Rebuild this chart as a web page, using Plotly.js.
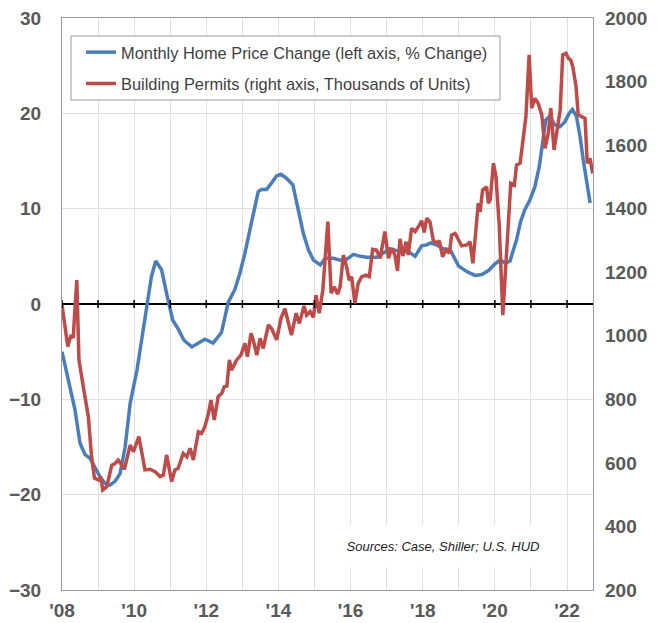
<!DOCTYPE html>
<html>
<head>
<meta charset="utf-8">
<script src="https://cdn.plot.ly/plotly-3.0.1.min.js"></script>
<style>
  html, body { margin: 0; padding: 0; background: #ffffff; }
  #chart { width: 669px; height: 623px; }
</style>
</head>
<body>
<div id="chart"></div>
<script>
// Monthly Home Price Change (left axis, % change)
var priceYears = [2008.00, 2008.17, 2008.36, 2008.50, 2008.64, 2008.78, 2008.91, 2009.05, 2009.19, 2009.33,
  2009.47, 2009.61, 2009.75, 2009.89, 2010.08, 2010.30, 2010.48, 2010.60, 2010.76, 2010.94,
  2011.07, 2011.22, 2011.38, 2011.60, 2011.78, 2011.96, 2012.19, 2012.42, 2012.61, 2012.79,
  2012.93, 2013.07, 2013.21, 2013.33, 2013.44, 2013.53, 2013.67, 2013.81, 2013.94, 2014.07,
  2014.22, 2014.40, 2014.52, 2014.69, 2014.83, 2014.97, 2015.16, 2015.30, 2015.53, 2015.71,
  2015.90, 2016.08, 2016.27, 2016.45, 2016.73, 2017.01, 2017.09, 2017.37, 2017.60, 2017.79,
  2017.97, 2018.11, 2018.22, 2018.39, 2018.57, 2018.76, 2018.90, 2018.99, 2019.22, 2019.45,
  2019.64, 2019.82, 2020.00, 2020.15, 2020.29, 2020.42, 2020.49, 2020.60, 2020.71, 2020.83,
  2020.97, 2021.11, 2021.23, 2021.32, 2021.41, 2021.52, 2021.66, 2021.80, 2021.94, 2022.06,
  2022.15, 2022.26, 2022.36, 2022.45, 2022.55, 2022.64];
var priceChange = [-5.0, -8.0, -11.1, -14.6, -15.8, -16.2, -17.1, -18.1, -18.8, -19.0,
  -18.6, -17.8, -15.0, -10.4, -6.9, -1.5, 2.9, 4.5, 3.6, 0.4,
  -1.7, -2.6, -3.8, -4.5, -4.1, -3.7, -4.1, -3.0, 0.2, 1.5,
  3.2, 5.3, 7.8, 9.9, 11.8, 12.0, 12.0, 12.7, 13.4, 13.6,
  13.2, 12.5, 10.2, 7.4, 5.7, 4.6, 4.1, 4.8, 4.8, 4.6,
  4.7, 5.2, 5.0, 4.9, 4.9, 5.6, 5.8, 5.5, 5.5, 5.0,
  6.1, 6.2, 6.4, 6.2, 5.8, 5.7, 4.6, 4.0, 3.4, 3.0,
  3.1, 3.5, 4.2, 4.6, 4.3, 4.5, 5.4, 6.7, 8.6, 9.9,
  10.9, 12.3, 14.4, 16.9, 19.3, 19.7, 18.8, 18.6, 19.1, 20.0,
  20.4, 19.7, 17.6, 15.1, 12.7, 10.6];

// Building Permits (right axis, thousands of units)
var permitYears = [2008.00, 2008.16, 2008.25, 2008.31, 2008.41, 2008.47, 2008.59, 2008.73, 2008.82, 2008.90,
  2009.01, 2009.07, 2009.13, 2009.24, 2009.38, 2009.47, 2009.56, 2009.73, 2009.89, 2009.98,
  2010.13, 2010.30, 2010.44, 2010.58, 2010.72, 2010.81, 2010.90, 2011.04, 2011.13, 2011.22,
  2011.36, 2011.46, 2011.55, 2011.64, 2011.78, 2011.87, 2011.96, 2012.06, 2012.13, 2012.22,
  2012.33, 2012.43, 2012.50, 2012.57, 2012.64, 2012.70, 2012.84, 2012.96, 2013.07, 2013.14,
  2013.24, 2013.30, 2013.40, 2013.49, 2013.58, 2013.72, 2013.81, 2013.95, 2014.07, 2014.18,
  2014.36, 2014.49, 2014.58, 2014.71, 2014.78, 2014.88, 2014.97, 2015.04, 2015.13, 2015.23,
  2015.37, 2015.46, 2015.55, 2015.64, 2015.71, 2015.80, 2015.89, 2015.96, 2016.03, 2016.12,
  2016.21, 2016.31, 2016.43, 2016.52, 2016.61, 2016.72, 2016.82, 2016.95, 2017.05, 2017.14,
  2017.23, 2017.30, 2017.37, 2017.45, 2017.54, 2017.60, 2017.69, 2017.79, 2017.91, 2017.97,
  2018.04, 2018.11, 2018.20, 2018.29, 2018.39, 2018.46, 2018.55, 2018.65, 2018.74, 2018.80,
  2018.90, 2018.99, 2019.08, 2019.22, 2019.31, 2019.39, 2019.48, 2019.54, 2019.59, 2019.66,
  2019.77, 2019.82, 2019.87, 2019.96, 2020.03, 2020.12, 2020.22, 2020.31, 2020.44, 2020.54,
  2020.60, 2020.70, 2020.77, 2020.86, 2020.95, 2021.02, 2021.11, 2021.20, 2021.30, 2021.39,
  2021.48, 2021.55, 2021.64, 2021.73, 2021.81, 2021.88, 2021.97, 2022.04, 2022.10, 2022.16,
  2022.25, 2022.31, 2022.41, 2022.50, 2022.56, 2022.64, 2022.71];
var permits = [1097, 966, 1002, 993, 1175, 924, 840, 745, 619, 552,
  546, 557, 515, 525, 593, 598, 609, 580, 656, 635,
  683, 578, 580, 572, 557, 562, 625, 541, 578, 583,
  630, 619, 646, 609, 698, 693, 714, 756, 798, 735,
  809, 819, 840, 842, 924, 892, 924, 939, 976, 934,
  1008, 987, 939, 992, 960, 1034, 1023, 987, 1055, 1085,
  1002, 1071, 1039, 1094, 1065, 1076, 1058, 1128, 1071, 1144,
  1359, 1134, 1154, 1131, 1154, 1254, 1217, 1175, 1186, 1102,
  1165, 1186, 1191, 1186, 1272, 1270, 1244, 1328, 1244, 1275,
  1254, 1204, 1305, 1251, 1296, 1254, 1338, 1328, 1349, 1362,
  1325, 1370, 1359, 1301, 1291, 1299, 1249, 1270, 1260, 1317,
  1322, 1304, 1283, 1286, 1296, 1228, 1333, 1417, 1390, 1459,
  1469, 1417, 1427, 1543, 1501, 1348, 1065, 1255, 1480, 1474,
  1537, 1543, 1616, 1689, 1884, 1716, 1747, 1732, 1695, 1590,
  1637, 1716, 1585, 1658, 1710, 1884, 1889, 1873, 1868, 1847,
  1784, 1695, 1689, 1684, 1543, 1558, 1511];

// Axis ticks
var yearTicks = [2008, 2009, 2010, 2011, 2012, 2013, 2014, 2015, 2016, 2017, 2018, 2019, 2020, 2021, 2022];
var yearLabels = ["'08", "", "'10", "", "'12", "", "'14", "", "'16", "", "'18", "", "'20", "", "'22"];
var leftTicks = [-30, -20, -10, 0, 10, 20, 30];
var rightTicks = [200, 400, 600, 800, 1000, 1200, 1400, 1600, 1800, 2000];

var seriesNames = ["Monthly Home Price Change (left axis, % Change)",
                   "Building Permits (right axis, Thousands of Units)"];
var sourceText = "Sources: Case, Shiller; U.S. HUD";

var tickFont = {family: "Liberation Sans, Arial, sans-serif", size: 19, color: "#595959", weight: "bold"};

var traces = [
  {
    x: priceYears, y: priceChange, type: "scatter", mode: "lines",
    name: seriesNames[0], legendgroup: "a",
    line: {color: "#4a7ebb", width: 3.5}, yaxis: "y", hoverinfo: "skip"
  },
  {
    x: permitYears, y: permits, type: "scatter", mode: "lines",
    name: seriesNames[1], legendgroup: "b",
    line: {color: "#be4b48", width: 3.5}, yaxis: "y2", hoverinfo: "skip"
  }
];

// small tick marks crossing the zero line, one per year
var shapes = yearTicks.map(function (yr) {
  return {
    type: "line", xref: "x", yref: "y", ysizemode: "pixel", yanchor: 0,
    x0: yr, x1: yr, y0: -4, y1: 4,
    line: {color: "#000000", width: 1.5}, layer: "above"
  };
});
// legend frame
shapes.push({
  type: "rect", xref: "paper", yref: "paper",
  x0: 0.0169, x1: 0.8249, y0: 0.8566, y1: 0.9685,
  fillcolor: "#ffffff", line: {color: "#9a9a9a", width: 1}, layer: "above"
});

var layout = {
  width: 669, height: 623,
  margin: {l: 62, r: 76, t: 18, b: 33, pad: 0},
  paper_bgcolor: "#ffffff", plot_bgcolor: "#ffffff",
  showlegend: true,
  xaxis: {
    range: [2008, 2022.72], tickvals: yearTicks, ticktext: yearLabels,
    showgrid: true, gridcolor: "#e1e1e1", gridwidth: 1,
    showline: true, linecolor: "#9a9a9a", linewidth: 1, mirror: true,
    ticks: "", ticklabelstandoff: 3, tickfont: tickFont, zeroline: false,
    fixedrange: true
  },
  yaxis: {
    range: [-30, 30], tickvals: leftTicks,
    showgrid: true, gridcolor: "#e1e1e1", gridwidth: 1,
    showline: true, linecolor: "#9a9a9a", linewidth: 1, mirror: true,
    zeroline: true, zerolinecolor: "#000000", zerolinewidth: 1.5,
    ticks: "", ticklabelstandoff: 16, tickfont: tickFont, fixedrange: true
  },
  yaxis2: {
    range: [200, 2000], tickvals: rightTicks, overlaying: "y", side: "right",
    showgrid: false, zeroline: false, showline: false,
    ticks: "", ticklabelstandoff: 11, tickfont: tickFont, fixedrange: true
  },
  legend: {
    x: 0.0358, y: 0.9703, xanchor: "left", yanchor: "top",
    bgcolor: "rgba(0,0,0,0)", borderwidth: 0,
    font: {family: "Liberation Sans, Arial, sans-serif", size: 16.4, color: "#404040"},
    traceorder: "grouped", tracegroupgap: 7, itemwidth: 30
  },
  shapes: shapes,
  annotations: [{
    text: sourceText, xref: "paper", yref: "paper",
    x: 0.717, y: 0.076, xanchor: "center", yanchor: "middle",
    showarrow: false, bgcolor: "#ffffff", borderpad: 0,
    width: 246, height: 41,
    font: {family: "Liberation Sans, Arial, sans-serif", size: 13, color: "#222222", style: "italic"}
  }]
};

Plotly.newPlot("chart", traces, layout, {staticPlot: true, displayModeBar: false});
</script>
</body>
</html>
